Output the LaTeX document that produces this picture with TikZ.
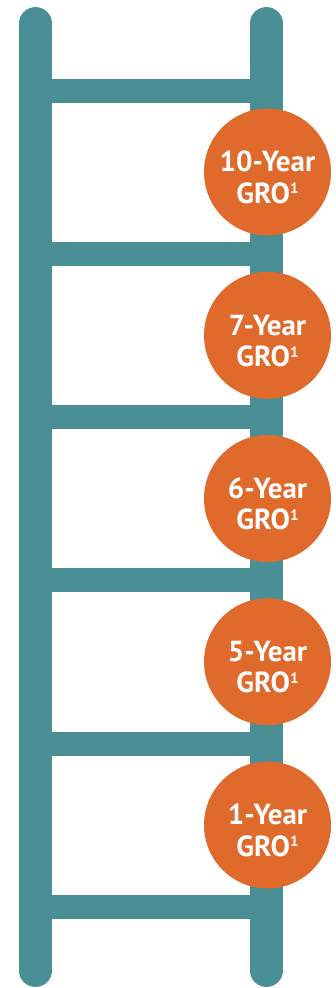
\documentclass[tikz,border=0pt]{standalone}
\usepackage{fontspec}
\setmainfont{PT Sans}
\definecolor{ladderteal}{HTML}{4A8F96}
\definecolor{groorange}{HTML}{E06A2C}
\tikzset{
  rail/.style={draw=ladderteal, line width=32.5pt, line cap=round},
  rung/.style={fill=ladderteal, draw=none},
  gro/.style={circle, fill=groorange, draw=none, minimum size=127pt, inner sep=0pt},
  grotext/.style={text=white, font=\fontsize{29}{31}\selectfont\bfseries, anchor=base, inner sep=0pt}
}
\newcommand{\supone}{\raisebox{9.3pt}{\fontsize{15}{15}\selectfont 1}}
\begin{document}
\begin{tikzpicture}[x=1pt,y=-1pt]
\useasboundingbox (0,0) rectangle (336,988);
% rails
\coordinate (lt) at (35.5,23.3);
\coordinate (lb) at (35.5,970.7);
\coordinate (rt) at (266.3,23.3);
\coordinate (rb) at (266.3,970.7);
\draw[rail] (lt) -- (lb);
\draw[rail] (rt) -- (rb);
% rungs
\foreach \y in {91,254,417,580,744,907}{
  \fill[rung] (35.5,\y-12) rectangle (266.3,\y+12);
}
% circles
\foreach \n/\cy/\lab in {c10/172/10, c7/335.3/7, c6/498.5/6, c5/661.7/5, c1/825/1}{
  \node[gro] (\n) at (267.5,\cy) {};
  \node[grotext] (\n a) at ([yshift=0.3pt]\n.center) {\lab-Year};
  \node[grotext] (\n b) at ([yshift=-31pt]\n.center) {GRO\supone};
}
\end{tikzpicture}
\end{document}
